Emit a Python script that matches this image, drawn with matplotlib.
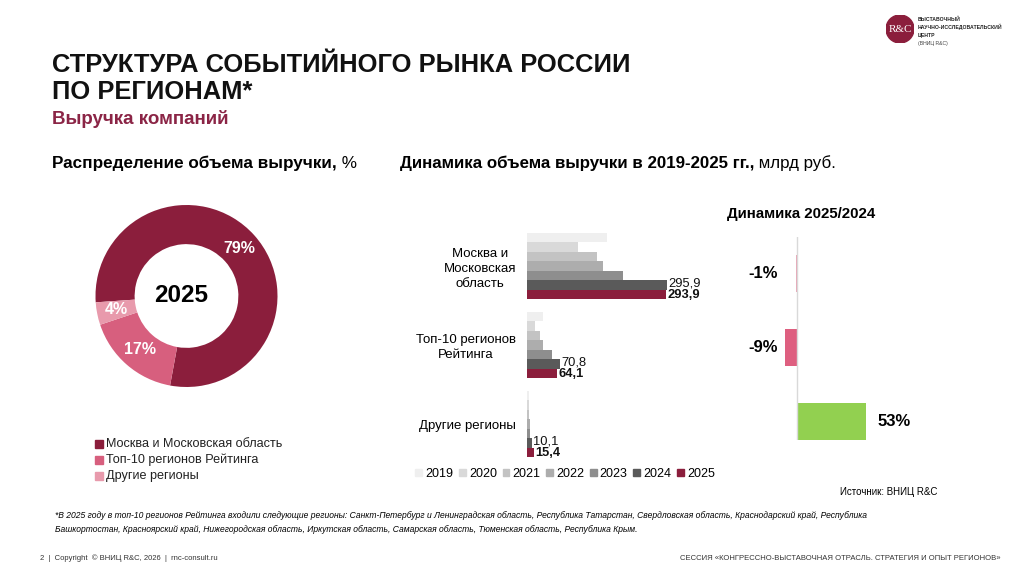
import matplotlib.pyplot as plt
from matplotlib.patches import Patch, Circle

plt.rcParams['font.family'] = ['Liberation Sans', 'DejaVu Sans']

W, H = 1024, 576

# --- data ---
regions = ["Москва и\nМосковская\nобласть", "Топ-10 регионов\nРейтинга", "Другие регионы"]
share_labels = ["Москва и Московская область", "Топ-10 регионов Рейтинга", "Другие регионы"]
share_2025 = [79, 17, 4]
years = ["2019", "2020", "2021", "2022", "2023", "2024", "2025"]
revenue = {
    "2019": [170, 33, 4],
    "2020": [108, 17, 3.5],
    "2021": [149, 28, 5],
    "2022": [161, 33, 6],
    "2023": [204, 53, 7],
    "2024": [295.9, 70.8, 10.1],
    "2025": [293.9, 64.1, 15.4],
}
dyn_2025_2024 = [-1, -9, 53]

MAROON = "#8b1e3c"
share_colors = [MAROON, "#d75f7e", "#e89aac"]
year_colors = ["#efefef", "#d9d9d9", "#c3c3c3", "#adadad", "#8e8e8e", "#5a5a5a", MAROON]
dyn_colors = ["#e8a3b4", "#de5f80", "#92d050"]


def px_axes(fig, x0, y0, x1, y1):
    # axes from pixel box (top-left origin)
    return fig.add_axes([x0 / W, 1 - y1 / H, (x1 - x0) / W, (y1 - y0) / H])


def fmt(v):
    return f"{v:.1f}".replace(".", ",")


def text_pair(fig, x, y, bold_part, plain_part, size):
    # bold text followed by regular text on the same line
    r = fig.canvas.get_renderer()
    t = fig.text(x / W, 1 - y / H, bold_part, fontsize=size, fontweight="bold", va="center")
    x_end = t.get_window_extent(r).x1
    fig.text(x_end / W, 1 - y / H, " " + plain_part, fontsize=size, va="center")


fig = plt.figure(figsize=(10.24, 5.76), dpi=100)
fig.patch.set_facecolor("white")

# --- headings ---
fig.text(52 / W, 1 - 72 / H, "СТРУКТУРА СОБЫТИЙНОГО РЫНКА РОССИИ",
         fontsize=18.4, fontweight="bold", va="baseline", color="#111111")
fig.text(52 / W, 1 - 99 / H, "ПО РЕГИОНАМ*",
         fontsize=18.4, fontweight="bold", va="baseline", color="#111111")
fig.text(52 / W, 1 - 124 / H, "Выручка компаний", fontsize=13.5, fontweight="bold",
         color="#8b2546", va="baseline")
text_pair(fig, 52, 163, "Распределение объема выручки,", "%", 12.3)
text_pair(fig, 400, 163, "Динамика объема выручки в 2019-2025 гг.,", "млрд руб.", 12.2)

# --- logo ---
lax = px_axes(fig, 886, 15, 914, 43)
lax.set_xlim(-1, 1)
lax.set_ylim(-1, 1)
lax.set_aspect("equal")
lax.axis("off")
lax.add_patch(Circle((0, 0), 1, color=MAROON))
lax.text(0, 0, "R&C", color="white", fontsize=8, ha="center", va="center",
         family="Liberation Serif")
for i, line in enumerate(["ВЫСТАВОЧНЫЙ", "НАУЧНО-ИССЛЕДОВАТЕЛЬСКИЙ", "ЦЕНТР"]):
    fig.text(918 / W, 1 - (19 + i * 8) / H, line, fontsize=3.7, fontweight="bold",
             va="center", color="#222222")
fig.text(918 / W, 1 - 43 / H, "(ВНИЦ R&C)", fontsize=3.7, va="center", color="#444444")

# --- donut ---
pax = px_axes(fig, 95.5, 205, 277.5, 387)
wedges, _, autot = pax.pie(share_2025, colors=share_colors, startangle=-176, counterclock=False,
                           radius=1, wedgeprops=dict(width=0.43, linewidth=0),
                           autopct=lambda p: f"{p:.0f}%", pctdistance=0.785)
for a in autot:
    a.set_color("white")
    a.set_fontweight("bold")
    a.set_fontsize(11.5)
pax.set_xlim(-1, 1)
pax.set_ylim(-1, 1)
pax.text(-0.06, 0, "2025", fontsize=17.5, fontweight="bold", ha="center", va="center")

for i, (lab, c) in enumerate(zip(share_labels, share_colors)):
    y = 444 + i * 16
    fig.patches.append(plt.Rectangle((95 / W, 1 - (y + 4) / H), 8 / W, 8 / H, color=c,
                                     transform=fig.transFigure, figure=fig))
    fig.text(106 / W, 1 - y / H, lab, fontsize=9.1, va="center", color="#222222")

# --- revenue bars ---
bax = px_axes(fig, 527, 226.5, 716, 463.5)
step = 0.12
for j, yr in enumerate(years):
    ys = [g + (j - 3) * step for g in range(len(regions))]
    bax.barh(ys, revenue[yr], height=step, color=year_colors[j], linewidth=0)
    if yr in ("2024", "2025"):
        for y, v in zip(ys, revenue[yr]):
            bax.text(v + 3, y - (0.02 if yr == "2024" else -0.01), fmt(v), va="center",
                     ha="left", fontsize=9.3,
                     fontweight="bold" if yr == "2025" else "normal", color="#111111")
bax.set_xlim(0, 400)
bax.set_ylim(2.5, -0.5)
bax.set_yticks(range(len(regions)), regions, fontsize=9.5)
for tl in bax.get_yticklabels():
    tl.set_multialignment("center")
    tl.set_linespacing(1.3)
bax.tick_params(axis="y", length=0, pad=8)
bax.set_xticks([])
for s in bax.spines.values():
    s.set_visible(False)

fig.legend(handles=[Patch(color=c, label=y) for y, c in zip(years, year_colors)],
           loc="center", bbox_to_anchor=(565 / W, 1 - 474 / H), ncol=7, frameon=False,
           fontsize=9.0, handlelength=0.55, handleheight=0.55, handletextpad=0.25,
           columnspacing=0.45)

# --- dynamics 2025/2024 ---
dax = px_axes(fig, 771, 237, 875, 440)
dax.barh(range(3), dyn_2025_2024, height=0.5, color=dyn_colors, linewidth=0)
dax.axvline(0, color="#d9d9d9", linewidth=1)
for i, v in enumerate(dyn_2025_2024):
    if v < 0:
        dax.text(-15, i, f"{v}%", ha="right", va="center", fontsize=12, fontweight="bold")
    else:
        dax.text(v + 9, i, f"{v}%", ha="left", va="center", fontsize=12, fontweight="bold")
dax.set_xlim(-20, 60)
dax.set_ylim(2.25, -0.49)
dax.axis("off")
fig.text(727 / W, 1 - 214 / H, "Динамика 2025/2024", fontsize=10.8, fontweight="bold",
         va="center")

fig.text(840 / W, 1 - 492 / H, "Источник: ВНИЦ R&C", fontsize=7, va="center")

# --- footnotes ---
fig.text(55 / W, 1 - 516 / H,
         "*В 2025 году в топ-10 регионов Рейтинга входили следующие регионы: Санкт-Петербург и "
         "Ленинградская область, Республика Татарстан, Свердловская область, Краснодарский край, Республика",
         fontsize=6.13, style="italic", va="center")
fig.text(55 / W, 1 - 530 / H,
         "Башкортостан, Красноярский край, Нижегородская область, Иркутская область, Самарская область, "
         "Тюменская область, Республика Крым.",
         fontsize=6.13, style="italic", va="center")
fig.text(40 / W, 1 - 558 / H, "2  |  Copyright  © ВНИЦ R&C, 2026  |  rnc-consult.ru",
         fontsize=5.5, va="center", color="#333333")
fig.text(1000 / W, 1 - 558 / H,
         "СЕССИЯ «КОНГРЕССНО-ВЫСТАВОЧНАЯ ОТРАСЛЬ. СТРАТЕГИЯ И ОПЫТ РЕГИОНОВ»",
         fontsize=5.5, va="center", ha="right", color="#333333")

fig.savefig("out.png", dpi=100)
